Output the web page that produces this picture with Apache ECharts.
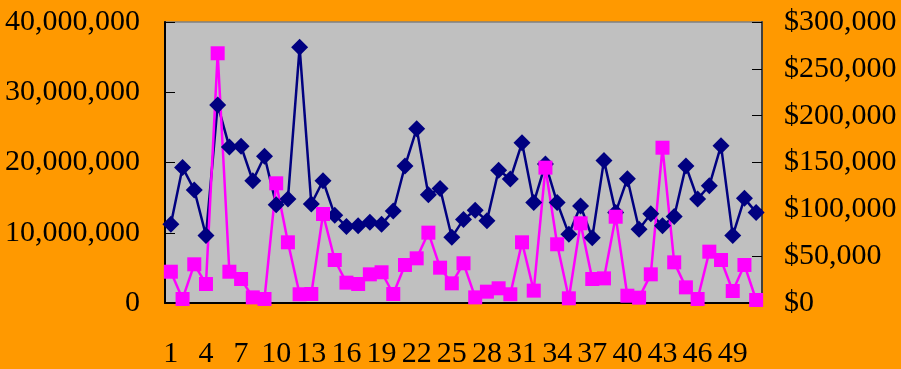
<!DOCTYPE html>
<html><head><meta charset="utf-8">
<script src="https://cdn.jsdelivr.net/npm/echarts@6/dist/echarts.min.js"></script>
<style>html,body{margin:0;padding:0;background:#FF9900;}#c{width:901px;height:369px;}</style>
</head><body><div id="c"></div>
<script>
var categories = [];
for (var i = 1; i <= 51; i++) categories.push(String(i));
var volume = [11200000,19300000,16100000,9600000,28200000,22200000,22300000,17400000,20900000,14000000,
  14800000,36400000,14100000,17400000,12500000,10900000,11000000,11500000,11200000,13100000,
  19500000,24800000,15400000,16300000,9350000,11900000,13200000,11700000,18900000,17650000,
  22800000,14300000,19800000,14300000,9800000,13800000,9300000,20300000,12900000,17700000,
  10500000,12700000,11000000,12300000,19500000,14800000,16700000,22400000,9600000,14900000,12900000];
var dollars = [33400,4300,41300,20300,266600,33400,25600,6000,4300,127800,
  64800,9300,9600,95000,45900,21700,20300,30600,32800,9600,
  40600,47700,75100,37700,21000,42400,6000,12100,15700,9300,
  64800,13200,144500,62700,5000,85100,25600,26300,92100,7800,
  5700,30600,165800,43400,16700,4300,54800,45900,12800,40600,3200];
var leftTicks = [0, 40000000, 10000000];
var rightTicks = [0, 300000, 50000];

function fmt(v){ return String(v).replace(/\B(?=(\d{3})+(?!\d))/g, ','); }
var font = 'Liberation Serif';
var chart = echarts.init(document.getElementById('c'));
chart.setOption({
  backgroundColor: '#FF9900',
  animation: false,
  grid: {left: 165, right: 139, top: 22, bottom: 66, show: true, backgroundColor: '#C0C0C0', borderColor: '#808080', borderWidth: 1.5},
  xAxis: {
    type: 'category', data: categories, boundaryGap: true,
    axisLine: {lineStyle: {color: '#000', width: 2}},
    axisTick: {inside: true, length: 9, interval: 0, lineStyle: {color: '#000', width: 1}},
    axisLabel: {interval: 2, color: '#000', fontFamily: font, fontSize: 30, margin: 36}
  },
  yAxis: [{
    type: 'value', min: leftTicks[0], max: leftTicks[1], interval: leftTicks[2],
    axisLine: {show: true, lineStyle: {color: '#000', width: 2}},
    axisTick: {show: true, inside: true, length: 10, lineStyle: {color: '#000'}},
    splitLine: {show: false},
    axisLabel: {color: '#000', fontFamily: font, fontSize: 30, margin: 25, formatter: function(v){return fmt(v);}}
  }, {
    type: 'value', min: rightTicks[0], max: rightTicks[1], interval: rightTicks[2], position: 'right',
    axisLine: {show: true, lineStyle: {color: '#404040', width: 2}},
    axisTick: {show: true, inside: true, length: 10, lineStyle: {color: '#000'}},
    splitLine: {show: false},
    axisLabel: {color: '#000', fontFamily: font, fontSize: 30, margin: 22, formatter: function(v){return '$' + fmt(v);}}
  }],
  series: [{
    type: 'line', yAxisIndex: 0, data: volume,
    symbol: 'diamond', symbolSize: 17, showAllSymbol: true,
    lineStyle: {color: '#000080', width: 2.5},
    itemStyle: {color: '#000080'}
  }, {
    type: 'line', yAxisIndex: 1, data: dollars,
    symbol: 'rect', symbolSize: 14, showAllSymbol: true,
    lineStyle: {color: '#FF00FF', width: 2.5},
    itemStyle: {color: '#FF00FF'},
    z: 3
  }]
});
</script></body></html>
